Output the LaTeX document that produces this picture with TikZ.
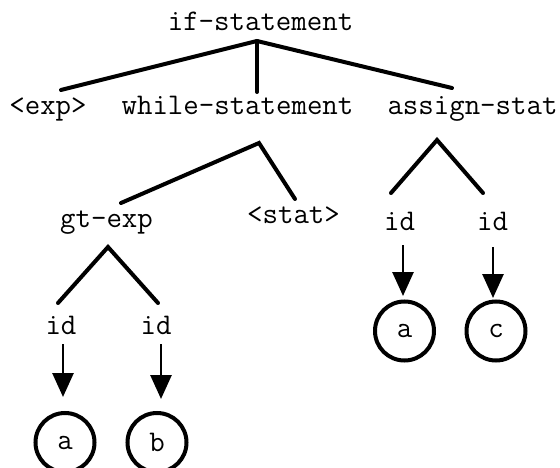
\documentclass[tikz,border=0pt]{standalone}
\usepackage{fontspec}
\usetikzlibrary{calc,arrows.meta}

\tikzset{
  lbl/.style={anchor=base, inner sep=0pt, outer sep=0pt,
    font=\ttfamily\fontsize{30}{36}\selectfont},
  leaf/.style={circle, draw, line width=4pt, minimum size=59pt, inner sep=0pt,
    font=\ttfamily\fontsize{30}{36}\selectfont},
  edge/.style={line width=4pt, line join=miter, line cap=round},
  arr/.style={line width=2.7pt, -{Triangle[width=21pt,length=24pt]}}
}

\begin{document}
\begin{tikzpicture}[x=1pt, y=-1pt]
  \clip (0,0) rectangle (560,468);
  \useasboundingbox (0,0) rectangle (560,468);

  % labels of the tree
  \node[lbl] (ifs)  at (260.5,31)  {if-statement};
  \node[lbl] (exp)  at (48,115)    {<exp>};
  \node[lbl] (whl)  at (237.5,115) {while-statement};
  \node[lbl] (asg)  at (472.5,115) {assign-stat};
  \node[lbl] (gtx)  at (106.5,228) {gt-exp};
  \node[lbl] (stat) at (293.5,223) {<stat>};
  \node[lbl] (idA)  at (61,334)    {id};
  \node[lbl] (idB)  at (156,334)   {id};
  \node[lbl] (idC)  at (399.5,230) {id};
  \node[lbl] (idD)  at (492.5,230) {id};

  % leaf values
  \node[leaf] (cA) at (65,442.5)  {a};
  \node[leaf] (cB) at (157,442.5) {b};
  \node[leaf] (cC) at (404.5,331) {a};
  \node[leaf] (cD) at (496,331)   {c};

  % if-statement branches
  \coordinate (ifTop) at ($(ifs.base)+(-3.5,10)$);
  \draw[edge] (ifTop) -- ($(exp.base)+(13,-25)$);
  \draw[edge] (ifTop) -- ($(whl.base)+(19.5,-23)$);
  \draw[edge] (ifTop) -- ($(asg.base)+(-20.5,-27)$);

  % while-statement branches
  \draw[edge] ($(gtx.base)+(14.5,-25)$) -- ($(whl.base)+(21.5,28)$)
              -- ($(stat.base)+(1.5,-24)$);

  % assign-stat branches
  \draw[edge] ($(idC.base)+(-8.5,-37)$) -- ($(asg.base)+(-35.5,25)$)
              -- ($(idD.base)+(-9.5,-37)$);

  % gt-exp branches
  \draw[edge] ($(idA.base)+(-3,-31)$) -- ($(gtx.base)+(1.5,19)$)
              -- ($(idB.base)+(2,-31)$);

  % id -> value arrows
  \draw[arr] ($(idA.base)+(2,10)$)   -- ($(cA.center)+(-2,-45.5)$);
  \draw[arr] ($(idB.base)+(5,10)$)   -- ($(cB.center)+(4,-43.5)$);
  \draw[arr] ($(idC.base)+(3.5,15)$) -- ($(cC.center)+(-1.5,-35)$);
  \draw[arr] ($(idD.base)+(0.5,17)$) -- ($(cD.center)+(-3,-33)$);
\end{tikzpicture}
\end{document}
